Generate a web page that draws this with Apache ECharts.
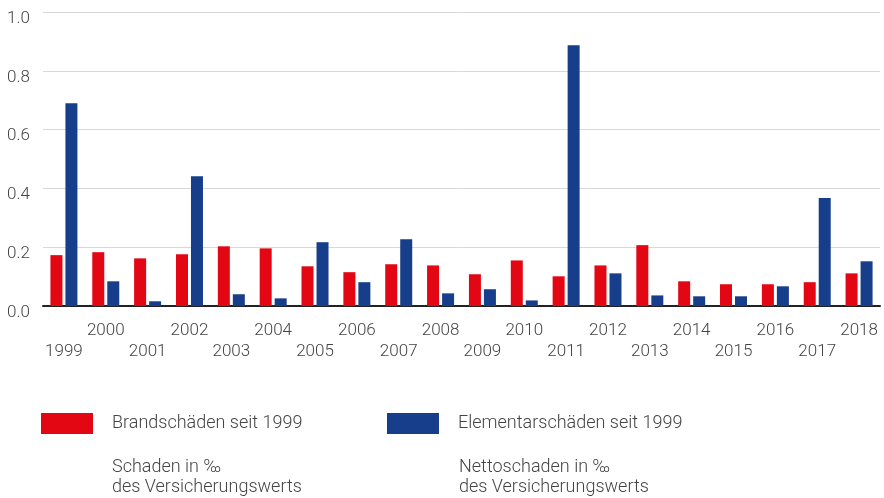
<!DOCTYPE html>
<html>
<head>
<meta charset="utf-8">
<script src="https://cdn.jsdelivr.net/npm/echarts@6/dist/echarts.min.js"></script>
<style>
  html, body { margin: 0; padding: 0; background: #fff; }
  #main { width: 884px; height: 498px; }
</style>
</head>
<body>
<div id="main"></div>
<script>
var years = ['1999', '2000', '2001', '2002', '2003', '2004', '2005', '2006', '2007', '2008',
             '2009', '2010', '2011', '2012', '2013', '2014', '2015', '2016', '2017', '2018'];
var brand = [0.173, 0.183, 0.162, 0.176, 0.203, 0.196, 0.135, 0.115, 0.142, 0.138,
             0.108, 0.155, 0.101, 0.138, 0.207, 0.084, 0.074, 0.074, 0.081, 0.111];
var elementar = [0.690, 0.084, 0.016, 0.441, 0.040, 0.026, 0.217, 0.081, 0.227, 0.043,
                 0.057, 0.019, 0.887, 0.111, 0.036, 0.033, 0.033, 0.067, 0.367, 0.152];
var yTicks = [0, 0.2, 0.4, 0.6, 0.8, 1.0];

var font = 'Roboto, "Liberation Sans", sans-serif';
var textColor = '#444';

var myChart = echarts.init(document.getElementById('main'));

var option = {
    animation: false,
    textStyle: { fontFamily: font, fontWeight: 300 },
    grid: { left: 43, right: 4, top: 12, bottom: 192 },
    legend: [{
        data: ['Brandschäden seit 1999'],
        left: 36, top: 408,
        itemWidth: 52, itemHeight: 21,
        icon: 'rect',
        textStyle: { fontFamily: font, fontWeight: 300, fontSize: 18, color: textColor, padding: [0, 0, 0, 14] },
        selectedMode: false
    }, {
        data: ['Elementarschäden seit 1999'],
        left: 382, top: 408,
        itemWidth: 52, itemHeight: 21,
        icon: 'rect',
        textStyle: { fontFamily: font, fontWeight: 300, fontSize: 18, color: textColor, padding: [0, 0, 0, 14] },
        selectedMode: false
    }],
    graphic: [{
        type: 'text', left: 112, top: 457,
        style: { text: 'Schaden in ‰\ndes Versicherungswerts', font: '300 18px ' + font, fill: textColor, lineHeight: 20 }
    }, {
        type: 'text', left: 459, top: 457,
        style: { text: 'Nettoschaden in ‰\ndes Versicherungswerts', font: '300 18px ' + font, fill: textColor, lineHeight: 20 }
    }],
    xAxis: {
        type: 'category',
        data: years,
        axisTick: { show: false },
        axisLine: { lineStyle: { color: '#222', width: 2 } },
        axisLabel: {
            interval: 0,
            margin: 14,
            fontSize: 17,
            color: textColor,
            fontWeight: 300,
            lineHeight: 21,
            verticalAlign: 'top',
            formatter: function (value, index) {
                return index % 2 === 0 ? '\n' + value : value;
            }
        }
    },
    yAxis: {
        type: 'value',
        min: yTicks[0],
        max: yTicks[yTicks.length - 1],
        interval: 0.2,
        axisLine: { show: false },
        axisTick: { show: false },
        splitLine: { lineStyle: { color: '#d8d8d8', width: 1 } },
        axisLabel: {
            margin: 13,
            fontSize: 17,
            color: textColor,
            fontWeight: 300,
            verticalAlign: 'top',
            lineHeight: 17,
            padding: [-2, 0, 0, 0],
            formatter: function (v) { return v.toFixed(1); }
        }
    },
    series: [{
        name: 'Brandschäden seit 1999',
        type: 'bar',
        data: brand,
        barWidth: 12,
        barGap: '25%',
        itemStyle: { color: '#e30613' }
    }, {
        name: 'Elementarschäden seit 1999',
        type: 'bar',
        data: elementar,
        barWidth: 12,
        itemStyle: { color: '#173e8b' }
    }]
};

myChart.setOption(option);
</script>
</body>
</html>
